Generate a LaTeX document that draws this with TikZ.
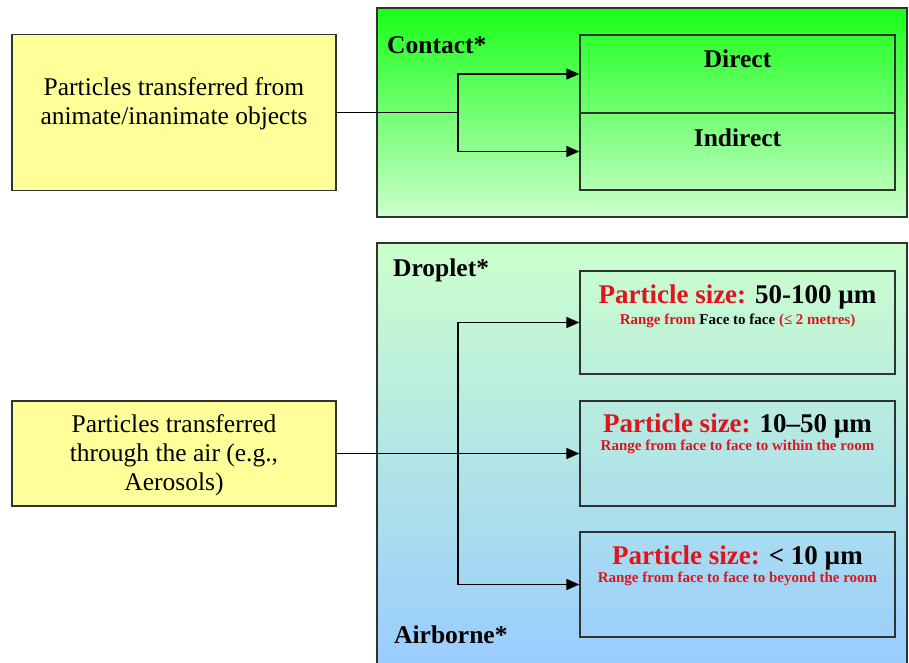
\documentclass[tikz,border=0pt]{standalone}
\usepackage{fontspec}
\setmainfont{Liberation Serif}
\newfontfamily\boxfont{Liberation Serif}[Ligatures=TeX]
\usetikzlibrary{arrows.meta}

\definecolor{srcyellow}{HTML}{FFFF99}
\definecolor{contacttop}{HTML}{19FF19}
\definecolor{contactbot}{HTML}{CCFFCC}
\definecolor{airtop}{HTML}{CCFFCC}
\definecolor{airbot}{HTML}{99CCFF}
\definecolor{sizered}{HTML}{E0141E}
\definecolor{edgegray}{HTML}{2E332E}

\begin{document}
\begin{tikzpicture}[x=1pt, y=-1pt,
    source/.style={draw=edgegray, line width=1.3pt, fill=srcyellow, minimum width=324pt, minimum height=#1, inner sep=0pt},
    srctext/.style={align=center, inner sep=0pt, font=\boxfont\fontsize{25.5}{29}\selectfont},
    panel/.style={draw=edgegray, line width=1.3pt, minimum width=530pt, minimum height=#1, inner sep=0pt},
    modebox/.style={draw=edgegray, line width=1.3pt, minimum width=315pt, minimum height=#1, inner sep=0pt},
    title/.style={anchor=base, inner sep=0pt, font=\boxfont\bfseries\fontsize{25.5}{30}\selectfont},
    sizebig/.style={anchor=base, inner sep=0pt, font=\boxfont\bfseries\fontsize{27}{30}\selectfont},
    sizesmall/.style={anchor=base, inner sep=0pt, text=sizered, font=\boxfont\bfseries\fontsize{15}{18}\selectfont},
    arr/.style={-{Triangle[length=13pt,width=11pt]}, line width=1.5pt}]

		\useasboundingbox (0,0) rectangle (909,662);
		\clip (0,0) rectangle (909,662);

		% Panels
		\node[panel=209pt, top color=contacttop, bottom color=contactbot] (contact) at (642,112.5) {};
		\node[panel=425pt, top color=airtop, bottom color=airbot] (air) at (642,455.5) {};
		\node[title, anchor=base west] (contactlbl) at (387,53) {Contact*};
		\node[title, anchor=base west] (dropletlbl) at (393,276) {Droplet*};
		\node[title, anchor=base west] (airbornelbl) at (394,643) {Airborne*};

		% Sources
		\node[source=156pt] (src1) at (174,112.5) {};
		\node[srctext] (src1text) at (174,104) {Particles transferred from\\animate/inanimate objects};
		\node[source=105pt] (src2) at (174,453.5) {};
		\node[srctext] (src2text) at (174,455) {Particles transferred\\through the air (e.g.,\\Aerosols)};

		% Contact boxes
		\node[modebox=78pt] (direct) at (737.5,74) {};
		\node[modebox=77pt] (indirect) at (737.5,151.5) {};
		\node[title] (directtext) at (737.5,67) {Direct};
		\node[title] (indirecttext) at (737.5,146) {Indirect};

		% Size boxes
		\node[modebox=103pt] (size1) at (737.5,322.5) {};
		\node[modebox=105pt] (size2) at (737.5,453.5) {};
		\node[modebox=105pt] (size3) at (737.5,584.5) {};
		\node[sizebig] (size1a) at (737.5,303) {\textcolor{sizered}{Particle size:} 50-100 µm};
		\node[sizesmall] (size1b) at (737.5,324) {Range from \textcolor{black}{Face to face} (≤ 2 metres)};
		\node[sizebig] (size2a) at (737.5,432) {\textcolor{sizered}{Particle size:} 10–50 µm};
		\node[sizesmall] (size2b) at (737.5,450) {Range from face to face to within the room};
		\node[sizebig] (size3a) at (737.5,564) {\textcolor{sizered}{Particle size:} < 10 µm};
		\node[sizesmall] (size3b) at (737.5,582) {Range from face to face to beyond the room};

		% Edges
		\coordinate (j1) at (458,112.5);
		\coordinate (j2) at (458,453.5);
		\draw[line width=1.5pt] (src1.east) -- (j1);
		\draw[arr] (j1) |- (direct.west);
		\draw[arr] (j1) |- (indirect.west);
		\draw[arr] (src2.east) -- (size2.west);
		\draw[arr] (j2) |- (size1.west);
		\draw[arr] (j2) |- (size3.west);

	\end{tikzpicture}
\end{document}
